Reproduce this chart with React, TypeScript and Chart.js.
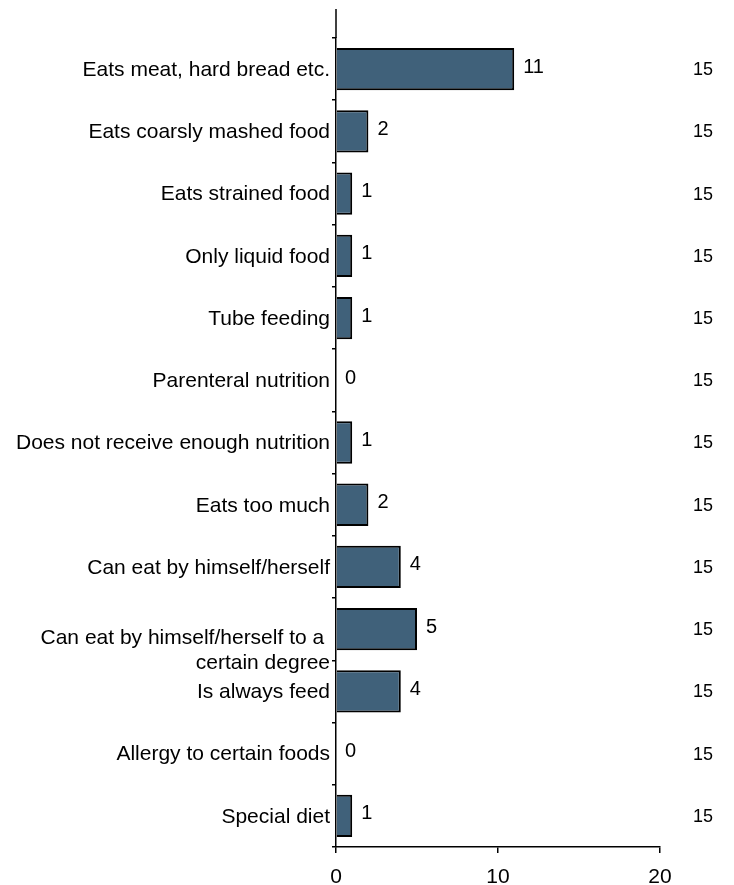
import React, { useEffect, useRef } from "react";
import { Chart, registerables } from "chart.js";

Chart.register(...registerables);

const categories: (string | string[])[] = [
  "Eats meat, hard bread etc.",
  "Eats coarsly mashed food",
  "Eats strained food",
  "Only liquid food",
  "Tube feeding",
  "Parenteral nutrition",
  "Does not receive enough nutrition",
  "Eats too much",
  "Can eat by himself/herself",
  ["Can eat by himself/herself to a ", "certain degree"],
  "Is always feed",
  "Allergy to certain foods",
  "Special diet",
];
const counts = [11, 2, 1, 1, 1, 0, 1, 2, 4, 5, 4, 0, 1];
const totals = [15, 15, 15, 15, 15, 15, 15, 15, 15, 15, 15, 15, 15];
const xTicks = [0, 10, 20];

const FONT = "Arial, 'Liberation Sans', sans-serif";

const labelPlugin = {
  id: "labels",
  afterDraw(chart: any) {
    const ctx = chart.ctx;
    const xs = chart.scales.x;
    const ys = chart.scales.y;
    ctx.save();
    // extend y axis line above
    ctx.strokeStyle = "#000";
    ctx.lineWidth = 1.5;
    ctx.beginPath();
    ctx.moveTo(chart.chartArea.left, 9);
    ctx.lineTo(chart.chartArea.left, chart.chartArea.top);
    ctx.stroke();
    ctx.fillStyle = "#000";
    ctx.textBaseline = "middle";
    categories.forEach((c, i) => {
      const y = ys.getPixelForValue(i);
      ctx.font = `21px ${FONT}`;
      ctx.textAlign = "right";
      if (Array.isArray(c)) {
        ctx.fillText(c[0], 330, y + 9);
        ctx.fillText(c[1], 330, y + 34);
      } else {
        ctx.fillText(c, 330, y + 1);
      }
    });
    counts.forEach((v, i) => {
      const y = ys.getPixelForValue(i);
      ctx.font = `20px ${FONT}`;
      ctx.textAlign = "left";
      ctx.fillText(String(v), xs.getPixelForValue(v) + 9, y - 2);
      ctx.font = `18px ${FONT}`;
      ctx.textAlign = "center";
      ctx.fillText(String(totals[i]), 703, y + 1);
    });
    ctx.restore();
  },
};

export default function App() {
  const ref = useRef<HTMLCanvasElement>(null);
  useEffect(() => {
    if (!ref.current) return;
    const chart = new Chart(ref.current, {
      type: "bar",
      data: {
        labels: categories as any,
        datasets: [
          {
            data: counts,
            backgroundColor: "#40617a",
            borderColor: "#000",
            borderWidth: 2,
            barPercentage: 0.68,
            categoryPercentage: 1,
          },
        ],
      },
      options: {
        indexAxis: "y",
        animation: false,
        responsive: false,
        layout: { padding: { top: 38, right: 74, left: 0, bottom: 0 } },
        plugins: { legend: { display: false }, tooltip: { enabled: false } },
        scales: {
          x: {
            min: 0,
            max: 20,
            afterBuildTicks: (s: any) => {
              s.ticks = xTicks.map((v) => ({ value: v }));
            },
            afterFit: (s: any) => {
              s.height = 38;
            },
            border: { color: "#000", width: 1.5 },
            grid: {
              drawOnChartArea: false,
              drawTicks: true,
              tickLength: 6,
              tickColor: "#000",
              lineWidth: 1.5,
            },
            ticks: {
              color: "#000",
              font: { family: FONT, size: 21 },
              padding: 12,
              maxRotation: 0,
            },
          },
          y: {
            afterFit: (s: any) => {
              s.width = 336;
            },
            border: { color: "#000", width: 1.5 },
            grid: {
              offset: true,
              drawOnChartArea: false,
              drawTicks: true,
              tickLength: 4,
              tickColor: "#000",
              lineWidth: 1.5,
            },
            ticks: { display: false },
          },
        },
      },
      plugins: [labelPlugin],
    });
    return () => chart.destroy();
  }, []);
  return (
    <div style={{ position: "absolute", left: 0, top: 0, width: 734, height: 885, background: "#fff" }}>
      <canvas ref={ref} width={734} height={885} style={{ display: "block" }} />
    </div>
  );
}
